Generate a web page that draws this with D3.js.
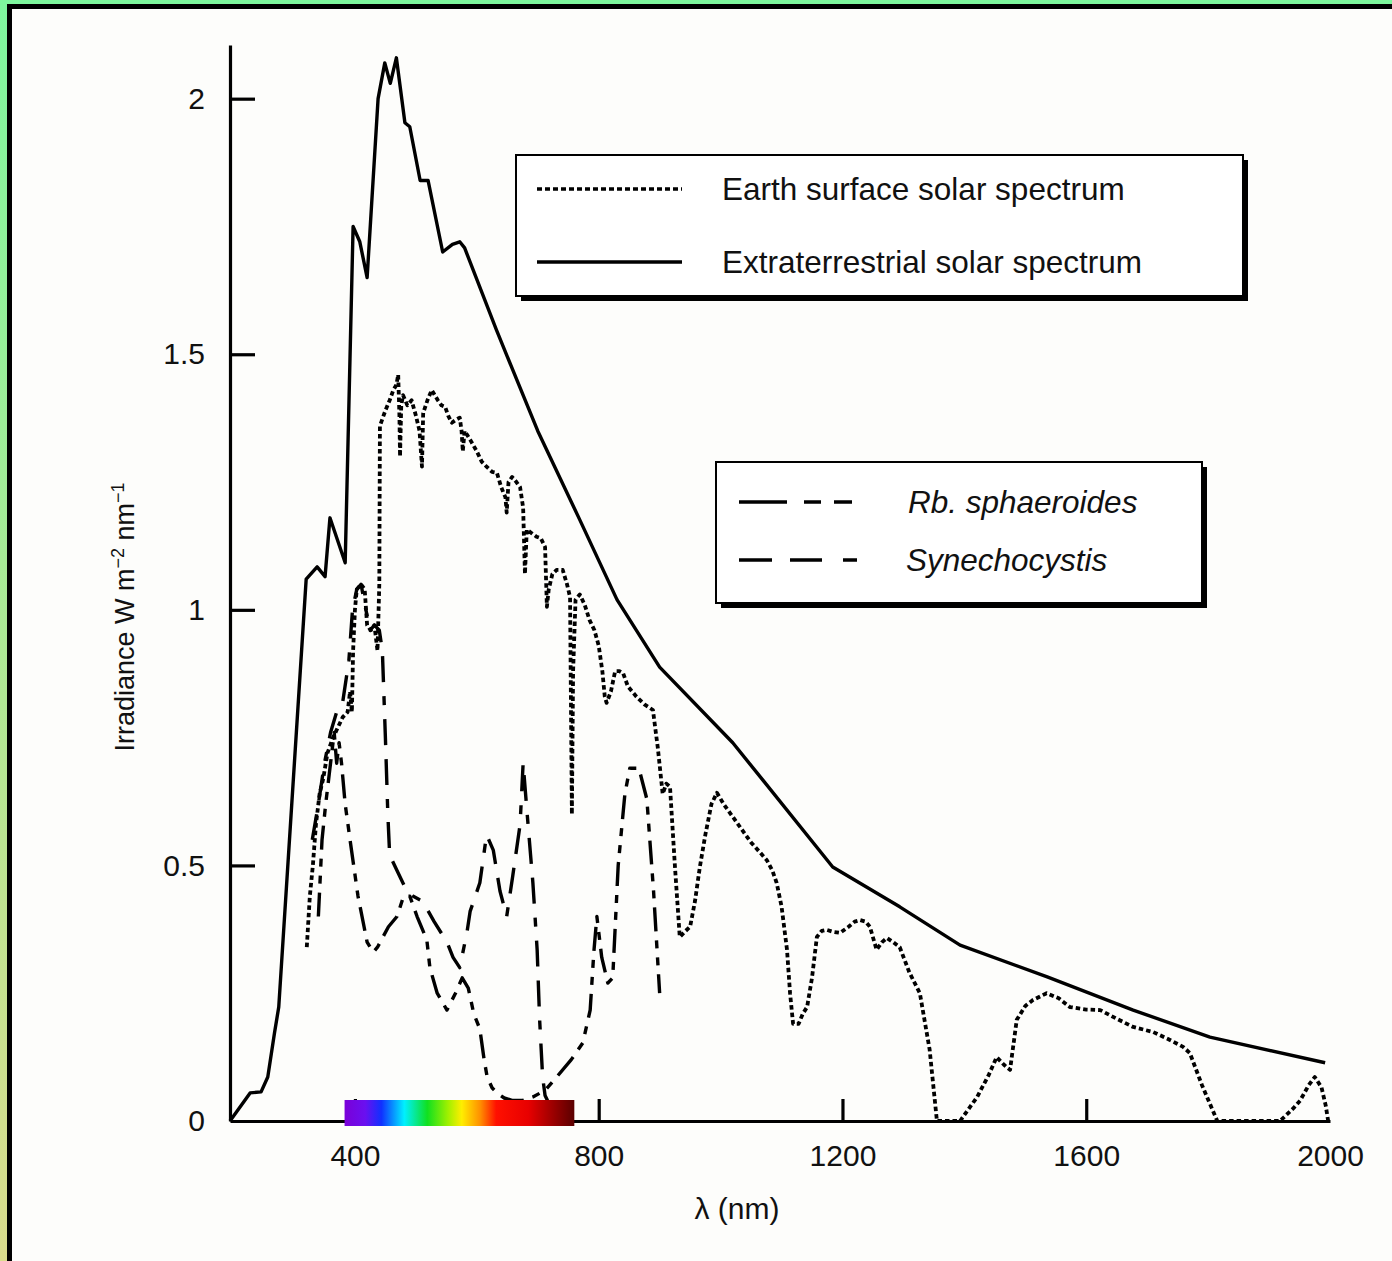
<!DOCTYPE html>
<html>
<head>
<meta charset="utf-8">
<script src="https://cdn.jsdelivr.net/npm/d3@7"></script>
<style>
  html, body { margin: 0; padding: 0; overflow: hidden; }
  #chart { width: 1392px; height: 1261px; }
</style>
</head>
<body>
<div id="chart"></div>
<script>
// ***************** data (wavelength nm, irradiance W m-2 nm-1) *****************
const extraterrestrial = [
  [195, 0], [228, 0.055], [246, 0.057], [257, 0.086], [268, 0.172], [275, 0.223],
  [320, 1.06], [338, 1.084], [351, 1.065], [359, 1.18], [384, 1.092], [397, 1.75],
  [408, 1.72], [420, 1.65], [438, 2.0], [449, 2.07], [458, 2.03], [468, 2.08],
  [482, 1.953], [490, 1.945], [507, 1.84], [520, 1.84], [544, 1.70], [560, 1.715],
  [572, 1.72], [580, 1.708], [632, 1.548], [700, 1.35], [769, 1.176], [830, 1.02],
  [900, 0.888], [1020, 0.74], [1184, 0.497], [1294, 0.419], [1393, 0.344],
  [1536, 0.282], [1677, 0.217], [1803, 0.164], [1992, 0.114]
];

const earthSurface = [
  [321, 0.34], [326, 0.44], [331, 0.50], [336, 0.58], [342, 0.64], [348, 0.67],
  [355, 0.72], [364, 0.75], [372, 0.77], [380, 0.79], [388, 0.80], [392, 0.84],
  [395, 0.80], [397, 0.92], [400, 1.00], [403, 1.04], [410, 1.05], [416, 1.04],
  [420, 0.97], [426, 0.96], [432, 0.97], [437, 0.92], [440, 1.05], [441, 1.36],
  [450, 1.39], [457, 1.41], [463, 1.43], [468, 1.44], [471, 1.46], [473, 1.38],
  [474, 1.30], [476, 1.40], [479, 1.42], [486, 1.40], [493, 1.41], [500, 1.38],
  [506, 1.35], [510, 1.28], [512, 1.385], [519, 1.41], [526, 1.43], [531, 1.42],
  [536, 1.41], [542, 1.40], [548, 1.397], [553, 1.38], [559, 1.366], [566, 1.372],
  [572, 1.376], [575, 1.35], [577, 1.31], [580, 1.35], [589, 1.333], [600, 1.31],
  [608, 1.29], [616, 1.28], [625, 1.27], [633, 1.268], [640, 1.24], [647, 1.22],
  [649, 1.19], [652, 1.25], [658, 1.26], [665, 1.25], [671, 1.24], [676, 1.20],
  [679, 1.07], [682, 1.157], [690, 1.15], [698, 1.143], [705, 1.14], [712, 1.123],
  [715, 1.006], [718, 1.04], [724, 1.07], [731, 1.078], [741, 1.078], [748, 1.05],
  [753, 1.025], [756, 0.60], [758, 0.88], [762, 1.02], [769, 1.03], [777, 1.01],
  [785, 0.98], [793, 0.96], [800, 0.93], [806, 0.88], [810, 0.83], [813, 0.818],
  [820, 0.84], [827, 0.88], [834, 0.88], [840, 0.876], [848, 0.85], [855, 0.84],
  [862, 0.83], [875, 0.815], [889, 0.804], [897, 0.73], [905, 0.64], [911, 0.66],
  [917, 0.654], [925, 0.50], [933, 0.36], [941, 0.37], [950, 0.38], [958, 0.43],
  [966, 0.497], [975, 0.56], [985, 0.62], [994, 0.642], [1005, 0.62], [1020, 0.595],
  [1035, 0.57], [1050, 0.545], [1065, 0.525], [1076, 0.51], [1085, 0.49], [1092, 0.466],
  [1100, 0.42], [1109, 0.335], [1114, 0.25], [1119, 0.19], [1128, 0.19], [1135, 0.21],
  [1142, 0.223], [1150, 0.28], [1158, 0.36], [1166, 0.372], [1174, 0.374], [1185, 0.37],
  [1196, 0.368], [1210, 0.38], [1220, 0.39], [1229, 0.393], [1238, 0.39], [1245, 0.38],
  [1256, 0.335], [1265, 0.35], [1273, 0.358], [1283, 0.35], [1294, 0.34], [1310, 0.29],
  [1327, 0.25], [1343, 0.14], [1355, 0.0], [1393, 0.0], [1421, 0.047], [1440, 0.09],
  [1453, 0.125], [1465, 0.11], [1475, 0.1], [1486, 0.198], [1500, 0.225], [1513, 0.237],
  [1535, 0.25], [1555, 0.24], [1573, 0.223], [1600, 0.218], [1623, 0.217], [1650, 0.2],
  [1677, 0.184], [1710, 0.174], [1735, 0.16], [1759, 0.145], [1770, 0.133], [1790, 0.07],
  [1815, 0.0], [1918, 0.0], [1940, 0.025], [1951, 0.04], [1965, 0.07], [1975, 0.086],
  [1986, 0.066], [1993, 0.03], [1997, 0.0]
];

const rbSphaeroides = [
  [340, 0.40], [346, 0.55], [352, 0.62], [358, 0.68], [362, 0.72], [366, 0.76],
  [370, 0.70], [374, 0.74], [378, 0.70], [384, 0.62], [392, 0.55], [405, 0.44],
  [420, 0.35], [430, 0.33], [437, 0.34], [455, 0.38], [469, 0.40], [480, 0.44],
  [490, 0.44], [502, 0.40], [518, 0.354], [523, 0.30], [535, 0.25], [551, 0.217],
  [565, 0.25], [576, 0.28], [586, 0.26], [595, 0.21], [605, 0.18], [612, 0.12],
  [617, 0.086], [625, 0.065], [633, 0.055], [645, 0.045], [659, 0.04], [675, 0.04],
  [692, 0.047], [712, 0.06], [731, 0.086], [755, 0.12], [774, 0.153], [786, 0.217],
  [792, 0.33], [797, 0.40], [805, 0.32], [815, 0.27], [823, 0.28], [832, 0.50],
  [843, 0.64], [851, 0.69], [866, 0.69], [879, 0.63], [890, 0.45], [900, 0.25]
];

const synechocystis = [
  [330, 0.55], [340, 0.62], [350, 0.70], [360, 0.76], [370, 0.80], [380, 0.82],
  [390, 0.90], [396, 1.00], [403, 1.04], [410, 1.05], [418, 1.00], [425, 0.96],
  [432, 0.97], [440, 0.96], [445, 0.92], [450, 0.75], [454, 0.60], [457, 0.52],
  [469, 0.49], [485, 0.45], [495, 0.44], [511, 0.43], [530, 0.39], [551, 0.35],
  [561, 0.32], [572, 0.30], [584, 0.37], [589, 0.41], [605, 0.466], [616, 0.56],
  [627, 0.53], [638, 0.45], [649, 0.40], [659, 0.48], [671, 0.58], [676, 0.70],
  [682, 0.61], [692, 0.466], [699, 0.335], [703, 0.20], [708, 0.086], [712, 0.05],
  [716, 0.04]
];

const xTicks = [400, 800, 1200, 1600, 2000];
const yTicks = [0, 0.5, 1, 1.5, 2];
const visibleBand = [383, 760];
const bandStops = [
  [0, '#7a00d8'], [0.09, '#6a10f0'], [0.16, '#1030ff'], [0.26, '#00f0ff'],
  [0.36, '#10e020'], [0.45, '#a0f000'], [0.51, '#ffee00'], [0.59, '#ff9000'],
  [0.66, '#ff1000'], [0.8, '#e80000'], [1, '#5a0000']
];

// ***************** layout *****************
const width = 1392;
const height = 1261;
const font = '"Liberation Sans", Arial, Helvetica, sans-serif';

const x = d3.scaleLinear().domain([195, 2000]).range([230, 1330]);
const y = d3.scaleLinear().domain([0, 2.105]).range([1121, 45]);

const svg = d3.select('#chart').append('svg')
  .attr('width', width)
  .attr('height', height);

const defs = svg.append('defs');

// ***************** background frame *****************
const bg = defs.append('linearGradient').attr('id', 'bgGrad')
  .attr('x1', 0).attr('y1', 0).attr('x2', 0).attr('y2', 1);
bg.append('stop').attr('offset', '0%').attr('stop-color', '#7ef79e');
bg.append('stop').attr('offset', '100%').attr('stop-color', '#dadc8c');

svg.append('rect')
  .attr('width', width)
  .attr('height', height)
  .attr('fill', 'url(#bgGrad)');
svg.append('rect')
  .attr('x', 9.5)
  .attr('y', 6.5)
  .attr('width', width + 20)
  .attr('height', height + 20)
  .attr('fill', '#fdfdfb')
  .attr('stroke', '#000')
  .attr('stroke-width', 5);

// ***************** axes *****************
const yAxis = svg.append('g')
  .attr('transform', `translate(${x.range()[0]},0)`)
  .call(d3.axisLeft(y).tickValues(yTicks).tickSize(-25).tickSizeOuter(0).tickPadding(25)
    .tickFormat(d => String(d)));

const xAxis = svg.append('g')
  .attr('transform', `translate(0,${y(0)})`)
  .call(d3.axisBottom(x).tickValues(xTicks).tickSize(-22).tickSizeOuter(0).tickPadding(24)
    .tickFormat(d => String(d)));

xAxis.selectAll('.tick').filter(d => d === 2000).select('line').remove();
yAxis.selectAll('.tick').filter(d => d === 0).select('line').remove();

[xAxis, yAxis].forEach(a => {
  a.selectAll('path, line').attr('stroke', '#000').attr('stroke-width', 3.2);
  a.selectAll('text')
    .attr('fill', '#111')
    .attr('font-family', font)
    .attr('font-size', '30px');
});

svg.append('text')
  .attr('x', 737)
  .attr('y', 1219)
  .attr('text-anchor', 'middle')
  .attr('font-family', font)
  .attr('font-size', '30px')
  .attr('fill', '#111')
  .text('λ (nm)');

const yTitle = svg.append('text')
  .attr('transform', 'translate(134,617) rotate(-90)')
  .attr('text-anchor', 'middle')
  .attr('font-family', font)
  .attr('font-size', '27px')
  .attr('fill', '#111');
yTitle.append('tspan').text('Irradiance W m');
yTitle.append('tspan').attr('dy', -10).attr('font-size', '18px').text('−2');
yTitle.append('tspan').attr('dy', 10).text(' nm');
yTitle.append('tspan').attr('dy', -10).attr('font-size', '18px').text('−1');

// ***************** curves *****************
const line = d3.line()
  .x(d => x(d[0]))
  .y(d => y(d[1]));

const curves = svg.append('g').attr('class', 'curves')
  .attr('fill', 'none')
  .attr('stroke', '#000')
  .attr('stroke-linejoin', 'round');

curves.append('path')
  .datum(extraterrestrial)
  .attr('d', line)
  .attr('stroke-width', 3.4);

curves.append('path')
  .datum(earthSurface)
  .attr('d', line)
  .attr('stroke-width', 3.8)
  .attr('stroke-dasharray', '4.5,3');

curves.append('path')
  .datum(rbSphaeroides)
  .attr('d', line)
  .attr('stroke-width', 3.4)
  .attr('stroke-dasharray', '24,9,8,9,8,9');

curves.append('path')
  .datum(synechocystis)
  .attr('d', line)
  .attr('stroke-width', 3.4)
  .attr('stroke-dasharray', '26,14,26,14,9,14');

// ***************** visible spectrum bar *****************
const band = defs.append('linearGradient').attr('id', 'bandGrad');
band.selectAll('stop')
  .data(bandStops)
  .join('stop')
  .attr('offset', d => `${d[0] * 100}%`)
  .attr('stop-color', d => d[1]);

svg.append('rect')
  .attr('x', x(visibleBand[0]))
  .attr('y', y(0) - 21)
  .attr('width', x(visibleBand[1]) - x(visibleBand[0]))
  .attr('height', 26)
  .attr('fill', 'url(#bandGrad)');

// ***************** legends *****************
function legendBox(x0, y0, w, h) {
  const g = svg.append('g');
  g.append('rect')
    .attr('x', x0 + 5).attr('y', y0 + 5)
    .attr('width', w).attr('height', h)
    .attr('fill', '#000');
  g.append('rect')
    .attr('x', x0).attr('y', y0)
    .attr('width', w).attr('height', h)
    .attr('fill', '#fff')
    .attr('stroke', '#000')
    .attr('stroke-width', 2);
  return g;
}

function legendItem(g, ly, x1, x2, dash, label, tx, italic) {
  g.append('line')
    .attr('x1', x1).attr('x2', x2)
    .attr('y1', ly).attr('y2', ly)
    .attr('stroke', '#000')
    .attr('stroke-width', 3.5)
    .attr('stroke-dasharray', dash);
  g.append('text')
    .attr('x', tx)
    .attr('y', ly + 11)
    .attr('font-family', font)
    .attr('font-size', '31.5px')
    .attr('font-style', italic ? 'italic' : 'normal')
    .attr('fill', '#111')
    .text(label);
}

const legend1 = legendBox(516, 155, 727, 141);
legendItem(legend1, 189, 537, 682, '5,3', 'Earth surface solar spectrum', 722, false);
legendItem(legend1, 262, 537, 682, null, 'Extraterrestrial solar spectrum', 722, false);

const legend2 = legendBox(716, 462, 486, 141);
legendItem(legend2, 502, 739, 853, '48,17,17,13,18,100', 'Rb. sphaeroides', 908, true);
legendItem(legend2, 560, 739, 857, '33,18,32,21,14,100', 'Synechocystis', 906, true);
</script>
</body>
</html>
